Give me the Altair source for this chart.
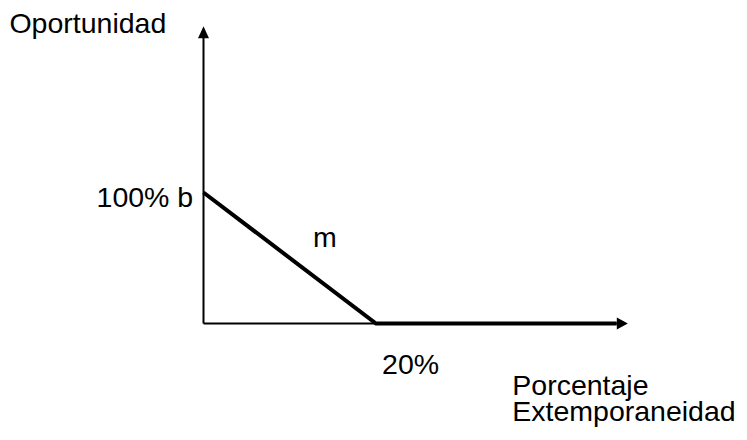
import altair as alt
import pandas as pd

# --- data ---
curve_x = [0, 20, 47.9]
curve_y = [100, 0, 0]

axis_x_end = 49.2   # tip of horizontal axis arrow
axis_y_end = 227.0  # tip of vertical axis arrow

label_text = ["Oportunidad", "100% b", "m", "20%", "Porcentaje", "Extemporaneidad"]
label_x = [-22.5, -12.4, 12.70, 20.70, 35.80, 35.80]
label_y = [222.0, 88.9, 58.4, -38.5, -54.6, -74.4]

# --- layout ---
W, H = 731, 424
XPX, YPX = 8.625, 1.31          # pixels per data unit
X0S, Y0S = 203.5 - 8, 323.5 - 8  # position of origin inside the svg
xmin = -X0S / XPX
xmax = xmin + W / XPX
ymax = Y0S / YPX
ymin = ymax - H / YPX

xs = alt.Scale(domain=[xmin, xmax], nice=False, zero=False)
ys = alt.Scale(domain=[ymin, ymax], nice=False, zero=False)

curve = pd.DataFrame({"x": curve_x, "y": curve_y, "o": range(len(curve_x))})
haxis = pd.DataFrame({"x": [0], "y": [0], "x2": [axis_x_end - 1.28], "y2": [0]})
vaxis = pd.DataFrame({"x": [0], "y": [0], "x2": [0], "y2": [axis_y_end - 8.5]})
tips_up = pd.DataFrame({"x": [0], "y": [axis_y_end]})
tips_right = pd.DataFrame({"x": [axis_x_end], "y": [0]})
labels = pd.DataFrame({"t": label_text, "x": label_x, "y": label_y})

X = lambda f="x": alt.X(f"{f}:Q", scale=xs, axis=None)
Y = lambda f="y": alt.Y(f"{f}:Q", scale=ys, axis=None)

h_rule = alt.Chart(haxis).mark_rule(color="black", strokeWidth=2).encode(
    x=X(), y=Y(), x2="x2:Q", y2="y2:Q")
v_rule = alt.Chart(vaxis).mark_rule(color="black", strokeWidth=2).encode(
    x=X(), y=Y(), x2="x2:Q", y2="y2:Q")

up = alt.Chart(tips_up).mark_point(
    shape="M0,0L1.83,4L-1.83,4Z", size=36, filled=True, color="black", opacity=1
).encode(x=X(), y=Y())
right = alt.Chart(tips_right).mark_point(
    shape="M0,0L-3.67,-2L-3.67,2Z", size=36, filled=True, color="black", opacity=1
).encode(x=X(), y=Y())

line = alt.Chart(curve).mark_line(color="black", strokeWidth=4, strokeCap="butt").encode(
    x=X(), y=Y(), order="o:Q")

text = alt.Chart(labels).mark_text(
    align="left", baseline="alphabetic", font="Liberation Sans", fontSize=28.5, color="black"
).encode(x=X(), y=Y(), text="t:N")

chart = alt.layer(h_rule, v_rule, up, right, line, text).properties(
    width=W, height=H, autosize=alt.AutoSizeParams(type="none"), padding=0
).configure_view(stroke=None)

chart.save("out.html", embed_options={"renderer": "svg", "actions": False})
